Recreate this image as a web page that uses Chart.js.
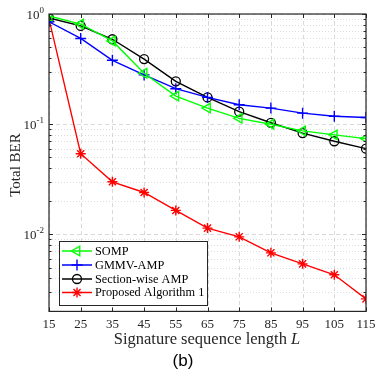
<!DOCTYPE html>
<html>
<head>
<meta charset="utf-8">
<script src="https://cdn.jsdelivr.net/npm/chart.js@4/dist/chart.umd.min.js"></script>
<style>
  html, body { margin: 0; padding: 0; background: #fff; }
  #wrap { width: 376px; height: 371px; position: relative; }
</style>
</head>
<body>
<div id="wrap"><canvas id="berChart"></canvas></div>
<script>
// signature sequence length L
const lengths = [15, 25, 35, 45, 55, 65, 75, 85, 95, 105, 115];
const sompBer = [0.96, 0.81, 0.57, 0.29, 0.18, 0.14, 0.113, 0.1, 0.087, 0.08, 0.074];
const gmmvBer = [0.85, 0.6, 0.38, 0.28, 0.21, 0.175, 0.15, 0.14, 0.126, 0.118, 0.115];
const sectionBer = [0.92, 0.78, 0.59, 0.39, 0.245, 0.175, 0.13, 0.103, 0.083, 0.07, 0.06];
const proposedBer = [0.9, 0.054, 0.03, 0.024, 0.0165, 0.0114, 0.0095, 0.0068, 0.0054, 0.0043, 0.0026];
const yDecades = [1, 0.1, 0.01];
const yDecadeExp = ['0', '-1', '-2'];

const SERIF = "'Liberation Serif', 'Times New Roman', serif";

function pts(vals) {
    return vals.map((v, i) => ({ x: lengths[i], y: v }));
}

// grid, box, y tick labels, legend and axis titles (MATLAB look)
const matlabFrame = {
    id: 'matlabFrame',
    beforeDatasetsDraw(chart) {
        const { ctx, chartArea: a, scales: { x, y } } = chart;
        ctx.save();
        ctx.lineWidth = 0.8;
        // minor y grid (dotted)
        ctx.strokeStyle = '#d4d4d4';
        ctx.setLineDash([1, 2]);
        for (let e = -3; e <= 0; e++) {
            for (let m = 2; m <= 9; m++) {
                const v = m * Math.pow(10, e);
                if (v < y.min || v > y.max) continue;
                const py = Math.round(y.getPixelForValue(v)) + 0.5;
                ctx.beginPath(); ctx.moveTo(a.left, py); ctx.lineTo(a.right, py); ctx.stroke();
            }
        }
        // major grid (dashed)
        ctx.strokeStyle = '#cfcfcf';
        ctx.setLineDash([4, 3]);
        yDecades.forEach(v => {
            const py = Math.round(y.getPixelForValue(v)) + 0.5;
            ctx.beginPath(); ctx.moveTo(a.left, py); ctx.lineTo(a.right, py); ctx.stroke();
        });
        lengths.forEach(v => {
            const px = Math.round(x.getPixelForValue(v)) + 0.5;
            ctx.beginPath(); ctx.moveTo(px, a.top); ctx.lineTo(px, a.bottom); ctx.stroke();
        });
        ctx.restore();
    },
    afterDatasetsDraw(chart) {
        const { ctx, chartArea: a, scales: { x, y } } = chart;
        ctx.save();
        // box
        ctx.strokeStyle = '#262626';
        ctx.lineWidth = 1.2;
        ctx.setLineDash([]);
        ctx.strokeRect(a.left, a.top, a.right - a.left, a.bottom - a.top);
        // inward ticks
        ctx.lineWidth = 1;
        lengths.forEach(v => {
            const px = Math.round(x.getPixelForValue(v)) + 0.5;
            ctx.beginPath();
            ctx.moveTo(px, a.bottom); ctx.lineTo(px, a.bottom - 4);
            ctx.moveTo(px, a.top); ctx.lineTo(px, a.top + 4);
            ctx.stroke();
        });
        for (let e = -3; e <= 0; e++) {
            for (let m = 1; m <= 9; m++) {
                const v = m * Math.pow(10, e);
                if (v < y.min - 1e-12 || v > y.max + 1e-12) continue;
                const len = m === 1 ? 4 : 2.5;
                const py = Math.round(y.getPixelForValue(v)) + 0.5;
                ctx.beginPath();
                ctx.moveTo(a.left, py); ctx.lineTo(a.left + len, py);
                ctx.moveTo(a.right, py); ctx.lineTo(a.right - len, py);
                ctx.stroke();
            }
        }
        // y tick labels 10^k
        ctx.fillStyle = '#262626';
        yDecades.forEach((v, i) => {
            const py = y.getPixelForValue(v);
            ctx.font = '9px ' + SERIF;
            const sup = yDecadeExp[i];
            const sw = ctx.measureText(sup).width;
            ctx.textAlign = 'left';
            ctx.textBaseline = 'alphabetic';
            const supX = a.left - 5 - sw;
            ctx.fillText(sup, supX, py - 1);
            ctx.font = '13px ' + SERIF;
            ctx.textAlign = 'right';
            ctx.fillText('10', supX, py + 5);
        });
        // y title
        ctx.save();
        ctx.translate(16, 165);
        ctx.rotate(-Math.PI / 2);
        ctx.font = '15px ' + SERIF;
        ctx.textAlign = 'center';
        ctx.textBaseline = 'middle';
        ctx.fillText('Total BER', 0, 0);
        ctx.restore();
        // x title with italic L
        ctx.font = '16.5px ' + SERIF;
        const t1 = 'Signature sequence length ';
        const w1 = ctx.measureText(t1).width;
        ctx.font = 'italic 16.5px ' + SERIF;
        const w2 = ctx.measureText('L').width;
        const startX = 207 - (w1 + w2) / 2;
        ctx.textAlign = 'left';
        ctx.textBaseline = 'middle';
        ctx.font = '16.5px ' + SERIF;
        ctx.fillText(t1, startX, 340);
        ctx.font = 'italic 16.5px ' + SERIF;
        ctx.fillText('L', startX + w1, 340);
        // caption
        ctx.fillStyle = '#000';
        ctx.font = "17px 'Liberation Sans', Arial, sans-serif";
        ctx.textAlign = 'center';
        ctx.fillText('(b)', 183, 361);

        // legend
        const lx = 59, ly = 241, lw = 148, lh = 64;
        ctx.fillStyle = '#fff';
        ctx.fillRect(lx, ly, lw, lh);
        ctx.strokeStyle = '#262626';
        ctx.lineWidth = 1;
        ctx.strokeRect(lx + 0.5, ly + 0.5, lw, lh);
        const rows = [251, 265, 279, 292.5];
        chart.data.datasets.forEach((ds, i) => {
            const ry = rows[i];
            ctx.strokeStyle = ds.borderColor;
            ctx.lineWidth = 1.5;
            ctx.beginPath(); ctx.moveTo(62, ry); ctx.lineTo(92, ry); ctx.stroke();
            ctx.fillStyle = ds.pointBackgroundColor || ds.borderColor;
            ctx.lineWidth = ds.pointBorderWidth;
            Chart.helpers.drawPoint(ctx, {
                pointStyle: ds.pointStyle,
                rotation: ds.pointRotation || 0,
                radius: ds.pointRadius,
                borderWidth: ds.pointBorderWidth
            }, 77, ry);
            ctx.fillStyle = '#000';
            ctx.font = '12.3px ' + SERIF;
            ctx.textAlign = 'left';
            ctx.textBaseline = 'middle';
            ctx.fillText(ds.label, 95, ry + 0.5);
        });
        ctx.restore();
    }
};

new Chart(document.getElementById('berChart'), {
    type: 'line',
    data: {
        datasets: [{
            label: 'SOMP',
            data: pts(sompBer),
            borderColor: '#00ff00',
            pointStyle: 'triangle',
            pointRotation: -90,
            pointRadius: 5.5,
            pointBorderWidth: 1.4,
            pointBackgroundColor: 'rgba(0,0,0,0)'
        }, {
            label: 'GMMV-AMP',
            data: pts(gmmvBer),
            borderColor: '#0000ff',
            pointStyle: 'cross',
            pointRadius: 5.5,
            pointBorderWidth: 1.4
        }, {
            label: 'Section-wise AMP',
            data: pts(sectionBer),
            borderColor: '#000000',
            pointStyle: 'circle',
            pointRadius: 4.5,
            pointBorderWidth: 1.3,
            pointBackgroundColor: 'rgba(0,0,0,0)'
        }, {
            label: 'Proposed Algorithm 1',
            data: pts(proposedBer),
            borderColor: '#ff0000',
            pointStyle: 'star',
            pointRadius: 5,
            pointBorderWidth: 1.4
        }]
    },
    options: {
        responsive: true, maintainAspectRatio: false,
        animation: false,
        devicePixelRatio: 1,
        layout: { padding: { left: 49, top: 14, right: 10, bottom: 34 } },
        elements: { line: { borderWidth: 1.4, tension: 0 } },
        plugins: { legend: { display: false }, tooltip: { enabled: false } },
        scales: {
            x: {
                type: 'linear', min: 15, max: 115,
                afterBuildTicks: (scale) => { scale.ticks = lengths.map(v => ({ value: v })); },
                afterFit: (scale) => { scale.paddingLeft = 0; scale.paddingRight = 0; },
                grid: { display: false, drawTicks: false },
                border: { display: false },
                ticks: { padding: 5, color: '#262626', font: { family: SERIF, size: 13 }, maxRotation: 0, autoSkip: false }
            },
            y: {
                type: 'logarithmic', min: 0.002, max: 1,
                display: false
            }
        }
    },
    plugins: [matlabFrame]
});
</script>
</body>
</html>
